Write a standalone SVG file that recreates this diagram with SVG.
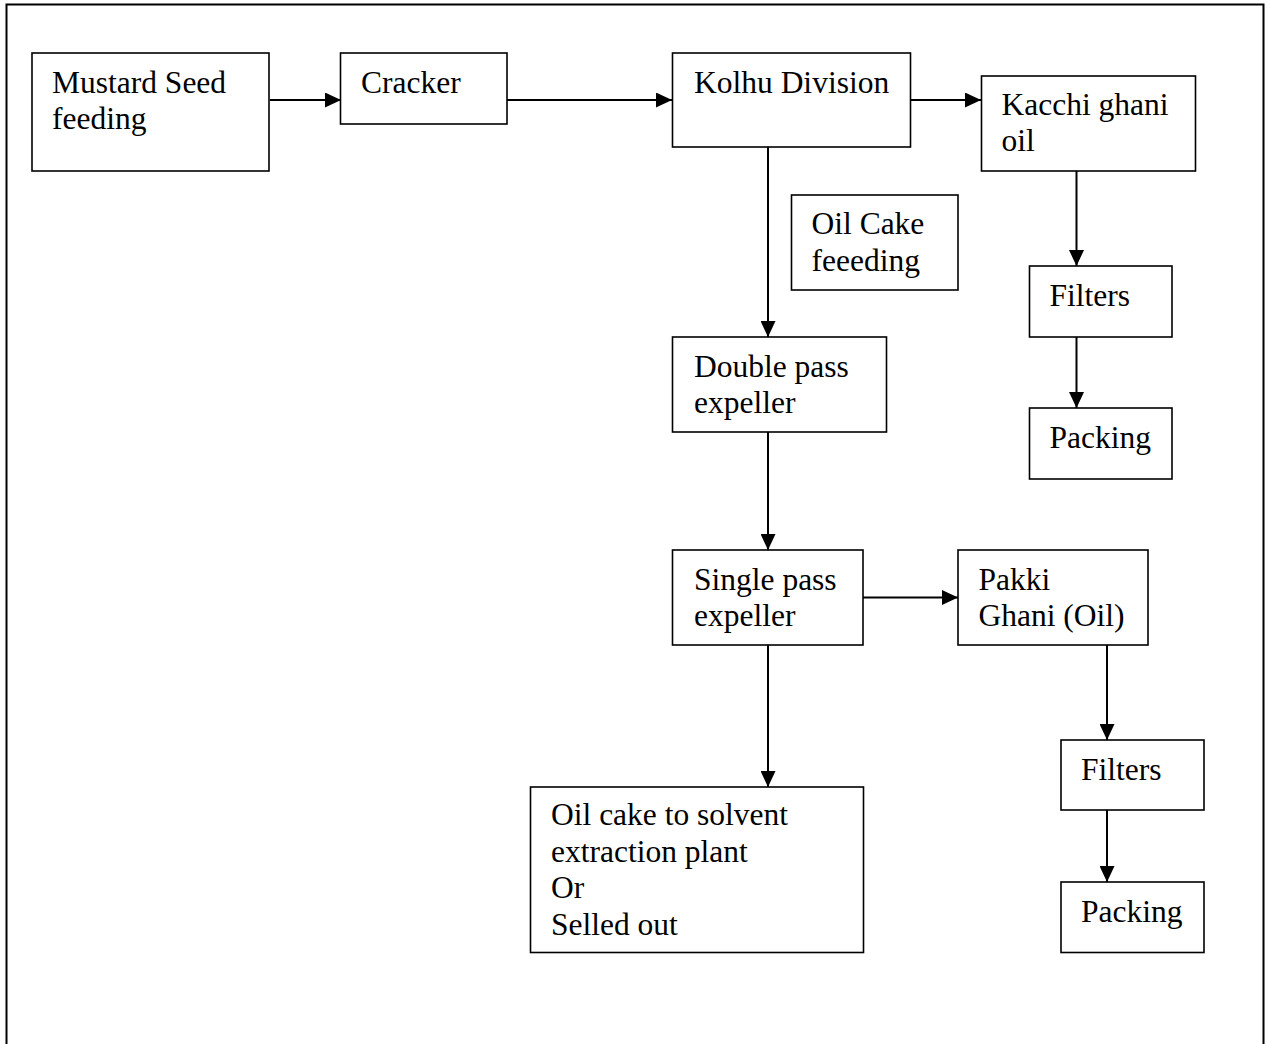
<svg xmlns="http://www.w3.org/2000/svg" width="1269" height="1044" viewBox="0 0 1269 1044">
<style>
.box{fill:#fff;stroke:#000;stroke-width:1.6}
.t{font-family:"Liberation Serif","Times New Roman",serif;font-size:31.5px;fill:#000}
.c{stroke:#000;stroke-width:2;fill:none;marker-end:url(#ah)}
</style>
<defs>
<marker id="ah" markerUnits="userSpaceOnUse" markerWidth="16" markerHeight="15" refX="16" refY="7.5" orient="auto">
<path d="M0,0 L16,7.5 L0,15 Z" fill="#000"/>
</marker>
</defs>
<rect width="1269" height="1044" fill="#fff"/>
<path d="M6.5,1044 V4.5 H1263.5 V1044" fill="none" stroke="#000" stroke-width="2"/>
<g id="connectors">
<line class="c" x1="270" y1="100" x2="341" y2="100"/>
<line class="c" x1="507" y1="100" x2="672" y2="100"/>
<line class="c" x1="910" y1="100" x2="981" y2="100"/>
<line class="c" x1="768" y1="147" x2="768" y2="337"/>
<line class="c" x1="1076.5" y1="171" x2="1076.5" y2="266"/>
<line class="c" x1="1076.5" y1="337" x2="1076.5" y2="408"/>
<line class="c" x1="768" y1="432" x2="768" y2="550"/>
<line class="c" x1="863" y1="597.5" x2="958" y2="597.5"/>
<line class="c" x1="768" y1="645" x2="768" y2="787"/>
<line class="c" x1="1107" y1="645" x2="1107" y2="740"/>
<line class="c" x1="1107" y1="810" x2="1107" y2="882"/>
</g>
<g id="mustard"><rect class="box" x="32" y="53" width="237" height="118"/><text class="t" x="52" y="92.5">Mustard Seed</text><text class="t" x="52" y="129.2">feeding</text></g>
<g id="cracker"><rect class="box" x="340.5" y="53" width="166.5" height="71"/><text class="t" x="361" y="92.5">Cracker</text></g>
<g id="kolhu"><rect class="box" x="672.5" y="53" width="238" height="94"/><text class="t" x="694" y="92.5">Kolhu Division</text></g>
<g id="kacchi"><rect class="box" x="981.5" y="76" width="214" height="95"/><text class="t" x="1001.5" y="114.5">Kacchi ghani</text><text class="t" x="1001.5" y="151.2">oil</text></g>
<g id="oilcakefeed"><rect class="box" x="791.5" y="195" width="166.5" height="95"/><text class="t" x="811.5" y="234">Oil Cake</text><text class="t" x="811.5" y="270.7">feeeding</text></g>
<g id="filters1"><rect class="box" x="1029.5" y="266" width="142.5" height="71"/><text class="t" x="1049.5" y="306">Filters</text></g>
<g id="packing1"><rect class="box" x="1029.5" y="408" width="142.5" height="71"/><text class="t" x="1049.5" y="447.5">Packing</text></g>
<g id="doublepass"><rect class="box" x="672.5" y="337" width="214" height="95"/><text class="t" x="694" y="376.7">Double pass</text><text class="t" x="694" y="413.4">expeller</text></g>
<g id="singlepass"><rect class="box" x="672.5" y="550" width="190.5" height="95"/><text class="t" x="694" y="589.7">Single pass</text><text class="t" x="694" y="626.4">expeller</text></g>
<g id="pakki"><rect class="box" x="958" y="550" width="190" height="95"/><text class="t" x="978.5" y="589.7">Pakki</text><text class="t" x="978.5" y="626.4">Ghani (Oil)</text></g>
<g id="filters2"><rect class="box" x="1061" y="740" width="143" height="70"/><text class="t" x="1081" y="780">Filters</text></g>
<g id="packing2"><rect class="box" x="1061" y="882" width="143" height="70.5"/><text class="t" x="1081" y="922">Packing</text></g>
<g id="oilcakeout"><rect class="box" x="530.5" y="787" width="333" height="165.5"/><text class="t" x="551" y="825">Oil cake to solvent</text><text class="t" x="551" y="861.7">extraction plant</text><text class="t" x="551" y="898.3">Or</text><text class="t" x="551" y="935">Selled out</text></g>
</svg>
